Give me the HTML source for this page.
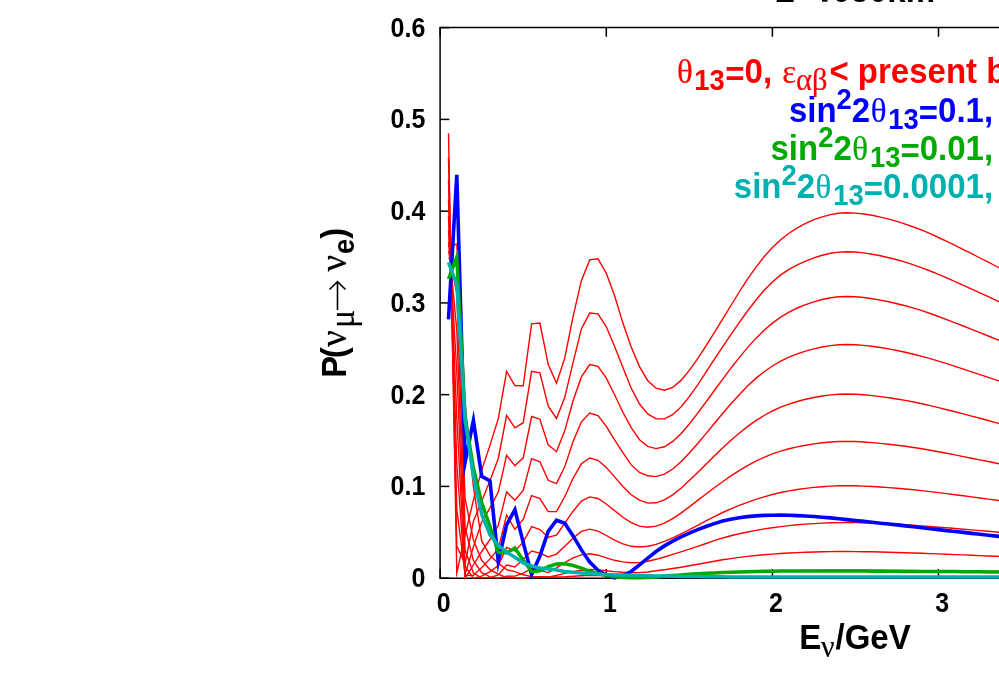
<!DOCTYPE html>
<html><head><meta charset="utf-8"><title>plot</title>
<style>
html,body{margin:0;padding:0;background:#fff;}
body{width:999px;height:674px;overflow:hidden;position:relative;font-family:"Liberation Sans",sans-serif;}
svg{position:absolute;left:0;top:0;}
.t{position:absolute;white-space:nowrap;font-weight:bold;line-height:1;color:#000;}
.g{font-family:"Liberation Serif",serif;font-weight:normal;}
</style></head><body>
<svg width="999" height="674" viewBox="0 0 999 674">
<g stroke="#000" stroke-width="1.5" fill="none" stroke-linecap="butt">
<path d="M1010,27.6 H440.1 V578.15 H1010"/>
</g>
<g stroke="#000" stroke-width="1.5" fill="none">
<path d="M440.1,578.15 h9.2"/>
<path d="M440.1,486.40 h9.2"/>
<path d="M440.1,394.65 h9.2"/>
<path d="M440.1,302.90 h9.2"/>
<path d="M440.1,211.15 h9.2"/>
<path d="M440.1,119.40 h9.2"/>
<path d="M440.1,27.65 h9.2"/>
<path d="M440.20,578.15 v-9.2 M440.20,27.6 v9.2"/>
<path d="M606.30,578.15 v-9.2 M606.30,27.6 v9.2"/>
<path d="M772.40,578.15 v-9.2 M772.40,27.6 v9.2"/>
<path d="M938.50,578.15 v-9.2 M938.50,27.6 v9.2"/>
</g>
<g stroke-linejoin="miter" stroke-miterlimit="10">
<polyline points="448.5,246.0 456.8,244.2 465.1,403.8 473.4,486.4 481.7,540.9 490.0,555.6 498.3,563.3 506.6,569.6 514.9,571.6 523.2,574.8 531.6,576.6 539.9,576.8 548.2,577.0 556.5,577.0 564.8,576.8 573.1,576.3 581.4,575.8 589.7,575.4 598.0,575.6 606.3,575.9 614.6,576.1 622.9,576.3 631.2,576.4 639.5,576.5 647.8,576.4 656.1,576.1 664.4,575.8 672.7,575.4 681.0,575.0 689.3,574.6 697.7,574.2 706.0,573.8 714.3,573.3 722.6,573.0 730.9,572.6 739.2,572.2 747.5,571.9 755.8,571.6 764.1,571.3 772.4,571.1 780.7,570.9 789.0,570.7 797.3,570.6 805.6,570.5 813.9,570.4 822.2,570.3 830.5,570.3 838.8,570.3 847.1,570.3 855.5,570.3 863.8,570.3 872.1,570.3 880.4,570.3 888.7,570.4 897.0,570.4 905.3,570.4 913.6,570.5 921.9,570.6 930.2,570.6 938.5,570.7 946.8,570.8 955.1,570.9 963.4,571.0 971.7,571.0 980.0,571.1 988.3,571.2 996.6,571.3 1004.9,571.4 1013.2,571.5" fill="none" stroke="#ff0000" stroke-width="1.4" />
<polyline points="448.5,257.4 456.8,266.2 465.1,498.6 473.4,540.0 481.7,560.3 490.0,569.6 498.3,574.1 506.6,577.6 514.9,577.8 523.2,578.1 531.6,577.1 539.9,577.2 548.2,577.3 556.5,575.4 564.8,573.4 573.1,571.7 581.4,570.2 589.7,569.4 598.0,569.9 606.3,570.8 614.6,571.6 622.9,572.2 631.2,572.5 639.5,572.6 647.8,572.0 656.1,570.8 664.4,569.7 672.7,568.5 681.0,567.3 689.3,565.8 697.7,564.3 706.0,562.8 714.3,561.3 722.6,559.8 730.9,558.6 739.2,557.4 747.5,556.4 755.8,555.5 764.1,554.8 772.4,554.1 780.7,553.5 789.0,553.0 797.3,552.6 805.6,552.2 813.9,552.0 822.2,551.8 830.5,551.6 838.8,551.5 847.1,551.5 855.5,551.6 863.8,551.7 872.1,551.8 880.4,552.0 888.7,552.2 897.0,552.5 905.3,552.7 913.6,553.0 921.9,553.3 930.2,553.6 938.5,553.9 946.8,554.2 955.1,554.6 963.4,554.9 971.7,555.3 980.0,555.6 988.3,556.0 996.6,556.3 1004.9,556.7 1013.2,557.0" fill="none" stroke="#ff0000" stroke-width="1.4" />
<polyline points="448.5,250.9 456.8,293.7 465.1,527.7 473.4,560.4 481.7,572.6 490.0,576.9 498.3,578.1 506.6,576.2 514.9,576.1 523.2,573.1 531.6,568.5 539.9,570.4 548.2,572.6 556.5,567.8 564.8,562.6 573.1,557.9 581.4,554.9 589.7,553.8 598.0,555.2 606.3,557.8 614.6,560.3 622.9,561.9 631.2,562.7 639.5,562.6 647.8,561.2 656.1,559.3 664.4,557.0 672.7,554.4 681.0,551.9 689.3,549.2 697.7,546.3 706.0,543.5 714.3,540.7 722.6,538.0 730.9,535.8 739.2,533.8 747.5,532.0 755.8,530.4 764.1,528.9 772.4,527.7 780.7,526.6 789.0,525.6 797.3,524.8 805.6,524.1 813.9,523.6 822.2,523.1 830.5,522.8 838.8,522.6 847.1,522.5 855.5,522.6 863.8,522.8 872.1,523.1 880.4,523.5 888.7,523.9 897.0,524.3 905.3,524.8 913.6,525.3 921.9,525.9 930.2,526.5 938.5,527.2 946.8,527.8 955.1,528.5 963.4,529.2 971.7,529.9 980.0,530.6 988.3,531.3 996.6,532.0 1004.9,532.7 1013.2,533.5" fill="none" stroke="#ff0000" stroke-width="1.4" />
<polyline points="448.5,241.8 456.8,330.4 465.1,550.3 473.4,573.1 481.7,577.9 490.0,577.6 498.3,575.0 506.6,565.0 514.9,566.9 523.2,559.2 531.6,551.0 539.9,553.1 548.2,557.0 556.5,554.1 564.8,546.2 573.1,538.2 581.4,531.4 589.7,529.1 598.0,531.1 606.3,535.5 614.6,540.2 622.9,543.9 631.2,546.3 639.5,547.0 647.8,546.3 656.1,544.4 664.4,541.4 672.7,537.8 681.0,533.9 689.3,529.7 697.7,525.3 706.0,520.9 714.3,516.6 722.6,512.5 730.9,508.8 739.2,505.4 747.5,502.3 755.8,499.4 764.1,496.8 772.4,494.5 780.7,492.5 789.0,490.9 797.3,489.5 805.6,488.4 813.9,487.4 822.2,486.7 830.5,486.1 838.8,485.8 847.1,485.7 855.5,485.8 863.8,486.1 872.1,486.5 880.4,487.0 888.7,487.6 897.0,488.2 905.3,489.0 913.6,489.8 921.9,490.6 930.2,491.6 938.5,492.6 946.8,493.6 955.1,494.7 963.4,495.8 971.7,496.9 980.0,498.0 988.3,499.1 996.6,500.2 1004.9,501.4 1013.2,502.5" fill="none" stroke="#ff0000" stroke-width="1.4" />
<polyline points="448.5,230.2 456.8,371.7 465.1,566.2 473.4,578.1 481.7,576.2 490.0,571.6 498.3,565.5 506.6,547.4 514.9,550.9 523.2,542.2 531.6,526.7 539.9,529.6 548.2,537.2 556.5,535.2 564.8,523.1 573.1,511.2 581.4,501.1 589.7,496.9 598.0,498.5 606.3,504.0 614.6,510.6 622.9,517.3 631.2,522.7 639.5,526.1 647.8,527.2 656.1,526.1 664.4,523.1 672.7,518.6 681.0,513.1 689.3,506.9 697.7,500.4 706.0,494.0 714.3,487.7 722.6,481.7 730.9,475.9 739.2,470.6 747.5,465.7 755.8,461.2 764.1,457.3 772.4,453.9 780.7,451.1 789.0,448.8 797.3,446.9 805.6,445.3 813.9,443.9 822.2,442.8 830.5,442.0 838.8,441.5 847.1,441.4 855.5,441.5 863.8,442.0 872.1,442.6 880.4,443.4 888.7,444.3 897.0,445.2 905.3,446.3 913.6,447.5 921.9,448.8 930.2,450.3 938.5,451.8 946.8,453.3 955.1,454.9 963.4,456.6 971.7,458.2 980.0,459.9 988.3,461.5 996.6,463.2 1004.9,464.9 1013.2,466.6" fill="none" stroke="#ff0000" stroke-width="1.4" />
<polyline points="448.5,216.0 456.8,417.6 465.1,575.5 473.4,575.4 481.7,567.4 490.0,558.9 498.3,548.9 506.6,515.0 514.9,529.3 523.2,519.4 531.6,495.6 539.9,498.6 548.2,511.6 556.5,511.6 564.8,496.5 573.1,478.2 581.4,463.8 589.7,458.0 598.0,460.3 606.3,467.4 614.6,476.9 622.9,486.5 631.2,494.8 639.5,500.2 647.8,503.1 656.1,502.8 664.4,499.8 672.7,494.8 681.0,488.2 689.3,480.6 697.7,472.6 706.0,464.2 714.3,456.0 722.6,448.0 730.9,440.3 739.2,433.2 747.5,426.6 755.8,420.7 764.1,415.5 772.4,411.0 780.7,407.2 789.0,404.1 797.3,401.5 805.6,399.3 813.9,397.5 822.2,396.0 830.5,394.9 838.8,394.2 847.1,394.0 855.5,394.3 863.8,394.8 872.1,395.6 880.4,396.6 888.7,397.7 897.0,399.0 905.3,400.4 913.6,402.0 921.9,403.8 930.2,405.6 938.5,407.6 946.8,409.7 955.1,411.8 963.4,413.9 971.7,416.1 980.0,418.3 988.3,420.5 996.6,422.8 1004.9,425.0 1013.2,427.3" fill="none" stroke="#ff0000" stroke-width="1.4" />
<polyline points="448.5,199.1 456.8,463.5 465.1,578.1 473.4,565.0 481.7,551.5 490.0,539.5 498.3,525.4 506.6,491.9 514.9,500.2 523.2,490.5 531.6,458.6 539.9,461.8 548.2,480.3 556.5,483.6 564.8,466.6 573.1,441.6 581.4,421.8 589.7,413.1 598.0,415.6 606.3,426.4 614.6,439.8 622.9,452.6 631.2,464.9 639.5,472.4 647.8,475.8 656.1,476.6 664.4,474.1 672.7,469.0 681.0,461.7 689.3,453.0 697.7,443.5 706.0,433.6 714.3,423.5 722.6,413.5 730.9,403.8 739.2,394.7 747.5,386.1 755.8,378.4 764.1,371.7 772.4,366.0 780.7,361.2 789.0,357.2 797.3,353.9 805.6,351.2 813.9,348.9 822.2,347.0 830.5,345.6 838.8,344.7 847.1,344.5 855.5,344.7 863.8,345.4 872.1,346.3 880.4,347.5 888.7,348.9 897.0,350.5 905.3,352.3 913.6,354.2 921.9,356.4 930.2,358.7 938.5,361.2 946.8,363.7 955.1,366.4 963.4,369.1 971.7,371.8 980.0,374.6 988.3,377.4 996.6,380.2 1004.9,383.0 1013.2,385.8" fill="none" stroke="#ff0000" stroke-width="1.4" />
<polyline points="448.5,179.7 456.8,509.3 465.1,574.1 473.4,547.0 481.7,522.0 490.0,507.9 498.3,492.1 506.6,455.4 514.9,465.8 523.2,457.8 531.6,416.5 539.9,419.2 548.2,444.9 556.5,451.7 564.8,430.6 573.1,400.7 581.4,376.9 589.7,364.6 598.0,366.3 606.3,378.2 614.6,394.8 622.9,412.3 631.2,427.7 639.5,439.7 647.8,446.3 656.1,448.6 664.4,446.8 672.7,441.4 681.0,433.7 689.3,424.0 697.7,413.2 706.0,402.0 714.3,390.5 722.6,379.3 730.9,368.2 739.2,357.6 747.5,347.6 755.8,338.4 764.1,330.2 772.4,323.1 780.7,317.1 789.0,312.1 797.3,308.0 805.6,304.6 813.9,301.8 822.2,299.5 830.5,297.8 838.8,296.8 847.1,296.5 855.5,296.8 863.8,297.5 872.1,298.7 880.4,300.1 888.7,301.8 897.0,303.7 905.3,305.8 913.6,308.2 921.9,310.7 930.2,313.5 938.5,316.5 946.8,319.6 955.1,322.8 963.4,326.0 971.7,329.3 980.0,332.6 988.3,336.0 996.6,339.3 1004.9,342.7 1013.2,346.2" fill="none" stroke="#ff0000" stroke-width="1.4" />
<polyline points="448.5,157.7 456.8,546.0 465.1,563.5 473.4,521.3 481.7,501.3 490.0,480.5 498.3,458.5 506.6,415.3 514.9,427.9 523.2,422.7 531.6,371.4 539.9,372.9 548.2,406.1 556.5,418.4 564.8,397.3 573.1,362.4 581.4,328.9 589.7,313.1 598.0,313.9 606.3,326.8 614.6,346.5 622.9,367.4 631.2,388.2 639.5,404.0 647.8,413.9 656.1,418.9 664.4,418.9 672.7,414.7 681.0,407.0 689.3,396.6 697.7,384.8 706.0,372.1 714.3,359.3 722.6,346.8 730.9,334.6 739.2,322.6 747.5,311.0 755.8,300.2 764.1,290.3 772.4,281.9 780.7,274.9 789.0,269.4 797.3,264.9 805.6,261.2 813.9,257.9 822.2,255.3 830.5,253.3 838.8,252.1 847.1,251.7 855.5,252.0 863.8,252.9 872.1,254.2 880.4,255.8 888.7,257.7 897.0,259.8 905.3,262.2 913.6,264.9 921.9,267.8 930.2,271.0 938.5,274.4 946.8,277.9 955.1,281.6 963.4,285.3 971.7,289.1 980.0,292.9 988.3,296.7 996.6,300.6 1004.9,304.5 1013.2,308.4" fill="none" stroke="#ff0000" stroke-width="1.4" />
<polyline points="448.5,133.2 456.8,573.0 465.1,535.0 473.4,500.2 481.7,470.1 490.0,445.1 498.3,418.6 506.6,371.4 514.9,385.5 523.2,385.8 531.6,323.8 539.9,323.0 548.2,364.4 556.5,383.2 564.8,357.9 573.1,316.4 581.4,280.7 589.7,259.9 598.0,258.8 606.3,273.2 614.6,295.7 622.9,323.1 631.2,346.9 639.5,366.6 647.8,380.7 656.1,388.2 664.4,390.2 672.7,387.5 681.0,380.4 689.3,370.4 697.7,358.7 706.0,345.9 714.3,332.6 722.6,319.1 730.9,305.5 739.2,292.0 747.5,279.1 755.8,267.3 764.1,256.7 772.4,247.5 780.7,239.7 789.0,233.2 797.3,227.9 805.6,223.4 813.9,219.7 822.2,216.8 830.5,214.6 838.8,213.2 847.1,212.8 855.5,213.1 863.8,214.0 872.1,215.3 880.4,217.1 888.7,219.1 897.0,221.4 905.3,224.1 913.6,227.0 921.9,230.2 930.2,233.7 938.5,237.5 946.8,241.4 955.1,245.4 963.4,249.6 971.7,253.7 980.0,258.0 988.3,262.2 996.6,266.5 1004.9,270.8 1013.2,275.2" fill="none" stroke="#ff0000" stroke-width="1.4" />
<polyline points="448.5,319.4 456.8,174.9 465.1,462.2 473.4,420.5 481.7,476.3 490.0,480.9 498.3,561.9 506.6,524.9 514.9,509.7 523.2,542.4 531.6,574.7 539.9,556.1 548.2,531.4 556.5,520.2 564.8,523.3 573.1,535.9 581.4,549.9 589.7,562.1 598.0,570.2 606.3,575.4 614.6,577.8 622.9,575.6 631.2,571.5 639.5,564.8 647.8,558.2 656.1,551.5 664.4,545.9 672.7,541.1 681.0,536.9 689.3,533.1 697.7,529.6 706.0,526.5 714.3,523.6 722.6,521.1 730.9,519.2 739.2,517.7 747.5,516.6 755.8,515.9 764.1,515.4 772.4,515.2 780.7,515.1 789.0,515.3 797.3,515.6 805.6,516.0 813.9,516.5 822.2,517.2 830.5,517.9 838.8,518.7 847.1,519.6 855.5,520.5 863.8,521.4 872.1,522.3 880.4,523.2 888.7,524.0 897.0,524.9 905.3,525.9 913.6,526.8 921.9,527.7 930.2,528.7 938.5,529.6 946.8,530.6 955.1,531.5 963.4,532.4 971.7,533.4 980.0,534.3 988.3,535.2 996.6,536.1 1004.9,537.0 1013.2,538.0" fill="none" stroke="#0000ff" stroke-width="3.6" />
<polyline points="448.5,279.0 456.8,257.0 465.1,417.6 473.4,468.0 481.7,502.9 490.0,526.5 498.3,552.5 506.6,552.7 514.9,548.1 523.2,560.3 531.6,571.5 539.9,570.9 548.2,566.6 556.5,564.1 564.8,563.7 573.1,565.5 581.4,568.2 589.7,571.3 598.0,573.7 606.3,575.4 614.6,576.8 622.9,577.5 631.2,577.7 639.5,577.7 647.8,577.4 656.1,577.0 664.4,576.3 672.7,575.6 681.0,574.9 689.3,574.3 697.7,573.8 706.0,573.3 714.3,572.9 722.6,572.6 730.9,572.3 739.2,572.0 747.5,571.8 755.8,571.5 764.1,571.3 772.4,571.2 780.7,571.1 789.0,571.0 797.3,570.9 805.6,570.9 813.9,570.9 822.2,570.9 830.5,570.9 838.8,571.0 847.1,571.0 855.5,571.1 863.8,571.1 872.1,571.2 880.4,571.2 888.7,571.3 897.0,571.3 905.3,571.4 913.6,571.4 921.9,571.5 930.2,571.5 938.5,571.5 946.8,571.6 955.1,571.6 963.4,571.7 971.7,571.7 980.0,571.8 988.3,571.9 996.6,571.9 1004.9,572.0 1013.2,572.0" fill="none" stroke="#00aa00" stroke-width="3.5" />
<polyline points="448.5,262.5 456.8,284.5 465.1,420.3 473.4,476.3 481.7,514.5 490.0,534.8 498.3,545.6 506.6,552.2 514.9,557.2 523.2,563.0 531.6,566.0 539.9,567.9 548.2,569.1 556.5,570.1 564.8,571.5 573.1,572.3 581.4,572.9 589.7,573.5 598.0,574.0 606.3,574.4 614.6,574.7 622.9,575.0 631.2,575.3 639.5,575.5 647.8,575.7 656.1,575.9 664.4,576.1 672.7,576.2 681.0,576.4 689.3,576.5 697.7,576.6 706.0,576.7 714.3,576.8 722.6,576.8 730.9,576.9 739.2,577.0 747.5,577.1 755.8,577.1 764.1,577.1 772.4,577.1 780.7,577.1 789.0,577.1 797.3,577.1 805.6,577.1 813.9,577.1 822.2,577.1 830.5,577.1 838.8,577.1 847.1,577.1 855.5,577.1 863.8,577.1 872.1,577.1 880.4,577.1 888.7,577.1 897.0,577.1 905.3,577.1 913.6,577.1 921.9,577.1 930.2,577.1 938.5,577.1 946.8,577.1 955.1,577.1 963.4,577.1 971.7,577.1 980.0,577.1 988.3,577.1 996.6,577.1 1004.9,577.1 1013.2,577.1" fill="none" stroke="#00afaf" stroke-width="3.5" />
</g>
</svg>
<svg width="999" height="674" viewBox="0 0 999 674" style="position:absolute;left:0;top:0;will-change:transform" font-family="Liberation Sans, sans-serif" font-weight="bold">
<defs><style>
.gk{font-family:"Liberation Serif",serif;font-weight:normal;stroke:currentColor;stroke-width:0.18px;}
.m{font-size:33px;}
.s{font-size:27.4px;}
.tk{font-size:25px;}
</style></defs>
<text class="m" fill="#000" color="#000" transform="translate(0,1.7) scale(1,1.045)" y="0" ><tspan x="774.5">L=</tspan><tspan x="832.3">050km</tspan></text>
<rect x="822" y="-5" width="5.5" height="6.7" fill="#000"/>
<text class="tk" fill="#000" color="#000" transform="translate(0,587.05) scale(1,1.105)" y="0" text-anchor="end"><tspan x="425.3">0</tspan></text>
<text class="tk" fill="#000" color="#000" transform="translate(0,495.30) scale(1,1.105)" y="0" text-anchor="end"><tspan x="425.3">0.1</tspan></text>
<text class="tk" fill="#000" color="#000" transform="translate(0,403.55) scale(1,1.105)" y="0" text-anchor="end"><tspan x="425.3">0.2</tspan></text>
<text class="tk" fill="#000" color="#000" transform="translate(0,311.80) scale(1,1.105)" y="0" text-anchor="end"><tspan x="425.3">0.3</tspan></text>
<text class="tk" fill="#000" color="#000" transform="translate(0,220.05) scale(1,1.105)" y="0" text-anchor="end"><tspan x="425.3">0.4</tspan></text>
<text class="tk" fill="#000" color="#000" transform="translate(0,128.30) scale(1,1.105)" y="0" text-anchor="end"><tspan x="425.3">0.5</tspan></text>
<text class="tk" fill="#000" color="#000" transform="translate(0,36.55) scale(1,1.105)" y="0" text-anchor="end"><tspan x="425.3">0.6</tspan></text>
<text class="tk" fill="#000" color="#000" transform="translate(0,612.4) scale(1,1.105)" y="0" text-anchor="middle"><tspan x="443.8">0</tspan></text>
<text class="tk" fill="#000" color="#000" transform="translate(0,612.4) scale(1,1.105)" y="0" text-anchor="middle"><tspan x="609.9">1</tspan></text>
<text class="tk" fill="#000" color="#000" transform="translate(0,612.4) scale(1,1.105)" y="0" text-anchor="middle"><tspan x="776.0">2</tspan></text>
<text class="tk" fill="#000" color="#000" transform="translate(0,612.4) scale(1,1.105)" y="0" text-anchor="middle"><tspan x="942.1">3</tspan></text>
<text class="m" fill="#000" color="#000" transform="translate(0,649.3) scale(1,1.045)" y="0" ><tspan x="799.3">E</tspan><tspan class="gk" font-size="30" x="821" dy="7.66">ν</tspan><tspan x="835.5" dy="-7.66">/GeV</tspan></text>
<g transform="translate(345.8,377.8) rotate(-90)">
<text class="m" fill="#000" color="#000" transform="translate(0,0) scale(1,1.045)" y="0" ><tspan x="0">P</tspan><tspan x="19.5">(</tspan><tspan class="gk" font-size="36.5" x="31">ν</tspan><tspan class="gk" font-size="34" x="49.8" dy="7.66">μ</tspan><tspan class="gk" font-size="36.5" x="106.3" dy="-7.66">ν</tspan><tspan class="s" x="123.7" dy="7.66">e</tspan><tspan x="139" dy="-7.66">)</tspan></text>
<path d="M67.8,-8.3 H96 M88.3,-16.3 L96.2,-8.3 L88.3,-0.3" fill="none" stroke="#000" stroke-width="1.6"/>
</g>
<text class="m" fill="#ff0000" color="#ff0000" transform="translate(0,82.5) scale(1,1.045)" y="0" ><tspan class="gk" x="677">θ</tspan><tspan class="s" x="694.2" dy="7.08">13</tspan><tspan x="725.3" dy="-3.54">=</tspan><tspan dy="-3.54">0,</tspan><tspan class="gk" x="782.3">ε</tspan><tspan class="gk" font-size="30.5" x="796" dy="7.08">αβ</tspan><tspan x="829.4" dy="-7.08">&lt; present bounds</tspan></text>
<text class="m" fill="#0000ff" color="#0000ff" transform="translate(0,121.7) scale(1,1.045)" y="0" ><tspan x="788.9">sin</tspan><tspan class="s" dy="-11.77">2</tspan><tspan dy="11.77">2</tspan><tspan class="gk" dx="0.5">θ</tspan><tspan class="s" dx="1.8" dy="7.08">13</tspan><tspan dy="-3.54">=</tspan><tspan dy="-3.54">0.1, </tspan></text>
<text class="m" fill="#00aa00" color="#00aa00" transform="translate(0,159.7) scale(1,1.045)" y="0" ><tspan x="770.5">sin</tspan><tspan class="s" dy="-11.77">2</tspan><tspan dy="11.77">2</tspan><tspan class="gk" dx="0.5">θ</tspan><tspan class="s" dx="1.8" dy="7.08">13</tspan><tspan dy="-3.54">=</tspan><tspan dy="-3.54">0.01, </tspan></text>
<text class="m" fill="#00afaf" color="#00afaf" transform="translate(0,197.6) scale(1,1.045)" y="0" ><tspan x="733.8">sin</tspan><tspan class="s" dy="-11.77">2</tspan><tspan dy="11.77">2</tspan><tspan class="gk" dx="0.5">θ</tspan><tspan class="s" dx="1.8" dy="7.08">13</tspan><tspan dy="-3.54">=</tspan><tspan dy="-3.54">0.0001, </tspan></text>
</svg>
</body></html>
